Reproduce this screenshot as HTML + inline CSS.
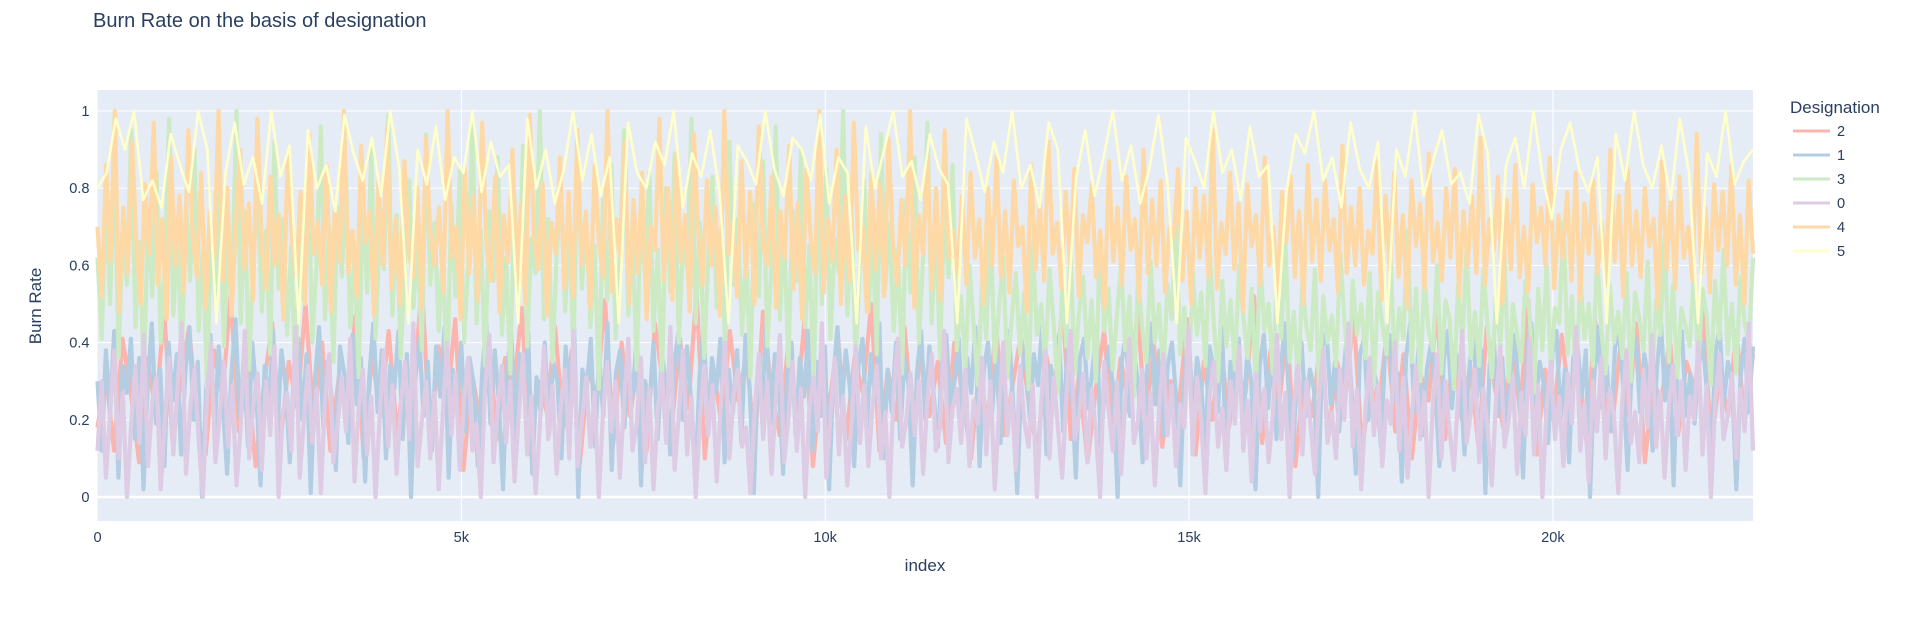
<!DOCTYPE html>
<html><head><meta charset="utf-8"><style>
body{margin:0;background:#fff;font-family:"Liberation Sans",sans-serif;}
svg text{font-family:"Liberation Sans",sans-serif;}
</style></head><body>
<svg id="chart" width="1911" height="617" xmlns="http://www.w3.org/2000/svg">
<text x="93" y="27" font-size="20" fill="#2a3f5f">Burn Rate on the basis of designation</text>
<rect x="97.5" y="90" width="1655.5" height="431" fill="#E5ECF6"/>
<g id="grid"></g>
<g id="series"></g>
<g id="axes"></g>
<text transform="translate(41,306) rotate(-90)" text-anchor="middle" font-size="17" fill="#2a3f5f">Burn Rate</text>
<text x="925" y="571" text-anchor="middle" font-size="17" fill="#2a3f5f">index</text>
<g id="legend">
<text x="1790" y="113" font-size="17" fill="#2a3f5f">Designation</text>
</g>
</svg>
<script>
const xTicks=[0,5000,10000,15000,20000];
const xTickLabels=["0","5k","10k","15k","20k"];
const yTicks=[0,0.2,0.4,0.6,0.8,1];
const yTickLabels=["0","0.2","0.4","0.6","0.8","1"];
const seriesNames=["2","1","3","0","4","5"];
const seriesColors=["#FBB4AE","#B3CDE3","#CCEBC5","#DECBE4","#FED9A6","#FFFFCC"];
const s2=[0.18,0.32,0.12,0.41,0.27,0.09,0.36,0.22,0.48,0.15,0.3,0.44,0.2,0.11,0.38,0.26,0.52,0.17,0.33,0.08,0.29,0.45,0.14,0.35,0.23,0.5,0.19,0.4,0.12,0.31,0.25,0.47,0.1,0.37,0.21,0.43,0.16,0.34,0.28,0.55,0.13,0.39,0.24,0.46,0.07,0.32,0.2,0.42,0.15,0.36,0.27,0.49,0.11,0.3,0.22,0.44,0.18,0.38,0.09,0.33,0.26,0.51,0.14,0.4,0.21,0.35,0.12,0.45,0.29,0.17,0.41,0.23,0.53,0.1,0.34,0.19,0.43,0.25,0.37,0.13,0.48,0.28,0.16,0.39,0.22,0.46,0.08,0.31,0.24,0.42,0.15,0.36,0.27,0.5,0.12,0.33,0.2,0.44,0.18,0.38,0.21,0.35,0.14,0.4,0.26,0.1,0.33,0.19,0.45,0.16,0.29,0.42,0.23,0.12,0.37,0.27,0.5,0.15,0.32,0.09,0.28,0.43,0.17,0.36,0.22,0.48,0.2,0.39,0.13,0.3,0.24,0.46,0.11,0.35,0.2,0.41,0.18,0.33,0.27,0.52,0.14,0.38,0.23,0.44,0.08,0.31,0.21,0.4,0.16,0.35,0.26,0.47,0.12,0.29,0.23,0.43,0.17,0.37,0.1,0.32,0.25,0.49,0.15,0.39,0.2,0.34,0.13,0.44,0.28,0.18,0.4,0.22,0.51,0.11,0.33,0.2,0.42,0.24,0.36,0.14,0.46,0.27,0.17,0.38,0.21,0.45,0.09,0.3,0.25,0.41,0.16,0.35,0.28,0.48,0.13,0.32,0.21,0.43,0.19,0.37];
const s1=[0.3,0.12,0.38,0.22,0.43,0.05,0.34,0.27,0.41,0.15,0.36,0.02,0.29,0.45,0.19,0.33,0.08,0.4,0.25,0.37,0.11,0.32,0.44,0.2,0.35,0.0,0.28,0.42,0.17,0.39,0.24,0.06,0.31,0.46,0.21,0.36,0.13,0.4,0.27,0.03,0.34,0.23,0.43,0.16,0.38,0.29,0.09,0.33,0.41,0.2,0.37,0.01,0.3,0.44,0.18,0.35,0.26,0.07,0.39,0.32,0.14,0.42,0.24,0.36,0.04,0.31,0.45,0.22,0.38,0.1,0.34,0.28,0.43,0.15,0.37,0.0,0.3,0.41,0.21,0.35,0.12,0.39,0.26,0.44,0.05,0.33,0.23,0.4,0.17,0.36,0.29,0.08,0.32,0.45,0.19,0.38,0.25,0.02,0.34,0.42,0.14,0.37,0.27,0.43,0.06,0.31,0.22,0.4,0.16,0.35,0.3,0.1,0.39,0.24,0.44,0.0,0.33,0.28,0.41,0.13,0.36,0.21,0.45,0.07,0.32,0.38,0.18,0.34,0.26,0.42,0.03,0.3,0.23,0.4,0.15,0.37,0.29,0.11,0.35,0.43,0.2,0.39,0.25,0.04,0.31,0.44,0.17,0.36,0.27,0.41,0.09,0.33,0.22,0.38,0.14,0.42,0.28,0.01,0.34,0.24,0.45,0.19,0.37,0.3,0.06,0.32,0.4,0.16,0.36,0.26,0.43,0.12,0.35,0.21,0.39,0.02,0.31,0.44,0.23,0.38,0.28,0.08,0.34,0.41,0.18,0.37,0.25,0.45,0.1,0.33,0.22,0.4,0.15,0.36,0.29,0.03,0.32,0.43,0.2,0.39,0.27,0.13,0.35,0.42,0.24,0.3,
0.41,0.19,0.36,0.27,0.44,0.08,0.33,0.4,0.22,0.38,0.14,0.35,0.43,0.25,0.01,0.31,0.39,0.2,0.37,0.29,0.45,0.11,0.34,0.26,0.42,0.17,0.38,0.3,0.05,0.36,0.41,0.23,0.33,0.44,0.13,0.3,0.39,0.27,0.0,0.35,0.42,0.21,0.37,0.28,0.09,0.32,0.45,0.24,0.38,0.16,0.34,0.4,0.26,0.03,0.31,0.43,0.2,0.36,0.29,0.12,0.39,0.33,0.22,0.44,0.07,0.35,0.27,0.41,0.18,0.37,0.3,0.02,0.34,0.42,0.23,0.38,0.15,0.32,0.45,0.26,0.1,0.36,0.4,0.21,0.33,0.28,0.0,0.39,0.43,0.24,0.35,0.17,0.31,0.44,0.27,0.06,0.37,0.41,0.2,0.34,0.29,0.13,0.38,0.42,0.25,0.32,0.04,0.36,0.45,0.22,0.39,0.16,0.33,0.4,0.28,0.08,0.35,0.43,0.23,0.37,0.3,0.11,0.31,0.44,0.26,0.38,0.01,0.34,0.41,0.21,0.36,0.18,0.32,0.42,0.27,0.05,0.39,0.45,0.24,0.35,0.29,0.14,0.37,0.43,0.2,0.33,0.09,0.36,0.4,0.26,0.38,0.0,0.31,0.44,0.23,0.34,0.17,0.39,0.42,0.28,0.07,0.35,0.41,0.22,0.37,0.3,0.12,0.33,0.45,0.25,0.36,0.03,0.38,0.43,0.21,0.32,0.19,0.34,0.4,0.27,0.1,0.37,0.44,0.24,0.35,0.29,0.02,0.31,0.41,0.22,0.39];
const s3=[0.62,0.41,0.78,0.5,0.88,0.36,0.7,0.55,0.95,0.44,0.66,0.3,0.73,0.52,0.84,0.4,0.6,0.98,0.47,0.69,0.34,0.76,0.56,0.9,0.43,0.64,0.28,0.71,0.5,0.86,0.39,0.67,0.58,1.0,0.45,0.74,0.33,0.62,0.8,0.48,0.69,0.37,0.92,0.54,0.72,0.42,0.65,0.27,0.77,0.51,0.87,0.4,0.6,0.96,0.46,0.7,0.35,0.75,0.57,0.83,0.44,0.63,0.31,0.79,0.53,0.9,0.41,0.68,0.59,0.99,0.47,0.73,0.36,0.61,0.82,0.49,0.66,0.38,0.94,0.55,0.71,0.43,0.64,0.29,0.76,0.52,0.85,0.4,0.6,0.97,0.45,0.69,0.34,0.74,0.56,0.88,0.42,0.62,0.32,0.78,0.5,0.91,0.39,0.67,0.58,1.0,0.46,0.72,0.35,0.63,0.81,0.48,0.7,0.37,0.93,0.54,0.73,0.44,0.65,0.28,0.77,0.51,0.86,0.41,0.61,0.95,0.47,0.68,0.33,0.75,0.57,0.84,0.43,0.64,0.3,0.8,0.53,0.89,0.4,0.66,0.59,0.98,0.45,0.71,0.36,0.62,0.83,0.49,0.69,0.38,0.92,0.55,0.72,0.42,0.63,0.31,0.76,0.52,0.87,0.39,0.6,0.96,0.46,0.7,0.34,0.74,0.56,0.9,0.44,0.65,0.29,0.79,0.5,0.85,0.41,0.67,0.58,1.0,0.47,0.73,0.35,0.61,0.82,0.48,0.68,0.37,0.94,0.54,0.71,0.43,0.64,0.32,0.77,0.53,0.88,0.4,0.62,0.97,0.45,0.7,0.36,0.75,0.57,0.86,
0.38,0.52,0.33,0.6,0.44,0.29,0.56,0.41,0.7,0.35,0.49,0.62,0.31,0.46,0.58,0.37,0.53,0.28,0.66,0.42,0.5,0.34,0.59,0.45,0.27,0.55,0.39,0.63,0.32,0.48,0.57,0.36,0.51,0.3,0.68,0.43,0.54,0.33,0.47,0.6,0.38,0.52,0.26,0.57,0.44,0.35,0.61,0.4,0.5,0.31,0.55,0.46,0.72,0.37,0.49,0.29,0.58,0.42,0.53,0.34,0.64,0.45,0.3,0.56,0.39,0.51,0.33,0.6,0.47,0.36,0.54,0.28,0.62,0.43,0.5,0.32,0.57,0.41,0.66,0.35,0.48,0.3,0.55,0.44,0.38,0.59,0.27,0.52,0.4,0.47,0.34,0.63,0.46,0.31,0.56,0.42,0.5,0.36,0.58,0.29,0.53,0.45,0.37,0.61,0.33,0.49,0.41,0.69,0.35,0.54,0.3,0.57,0.43,0.38,0.6,0.32,0.51,0.46,0.28,0.55,0.4,0.65,0.36,0.48,0.34,0.59,0.44,0.31,0.52,0.39,0.62,0.3,0.5,0.42,0.35,0.56,0.47,0.27,0.54,0.38,0.6,0.33,0.49,0.45,0.71,0.37,0.52,0.29,0.57,0.41,0.5,0.34,0.63,0.43,0.32,0.55,0.4,0.48,0.36,0.58,0.3,0.53,0.46,0.38,0.61,0.28,0.51,0.42,0.67,0.35,0.55,0.31,0.49,0.44,0.39,0.59,0.33,0.54,0.47,0.29,0.56,0.41,0.64,0.37,0.5,0.32,0.57,0.45,0.4,0.62];
const s0=[0.12,0.3,0.05,0.22,0.38,0.1,0.27,0.0,0.19,0.34,0.14,0.42,0.08,0.25,0.31,0.02,0.2,0.36,0.11,0.28,0.45,0.06,0.23,0.33,0.15,0.0,0.26,0.4,0.09,0.21,0.35,0.13,0.29,0.03,0.18,0.43,0.1,0.24,0.32,0.07,0.3,0.16,0.39,0.0,0.22,0.27,0.12,0.44,0.05,0.2,0.34,0.14,0.28,0.01,0.25,0.37,0.09,0.19,0.31,0.17,0.41,0.04,0.23,0.33,0.11,0.26,0.0,0.21,0.38,0.13,0.29,0.06,0.24,0.35,0.15,0.45,0.08,0.2,0.3,0.1,0.27,0.02,0.22,0.4,0.16,0.32,0.07,0.25,0.36,0.12,0.19,0.0,0.28,0.42,0.09,0.23,0.34,0.14,0.3,0.04,0.21,0.37,0.11,0.26,0.01,0.18,0.39,0.15,0.29,0.06,0.24,0.33,0.1,0.43,0.08,0.2,0.31,0.13,0.27,0.0,0.22,0.35,0.17,0.3,0.05,0.25,0.41,0.12,0.19,0.36,0.09,0.28,0.02,0.23,0.32,0.14,0.44,0.07,0.21,0.38,0.11,0.26,0.0,0.2,0.34,0.16,0.29,0.04,0.24,0.4,0.1,0.27,0.33,0.13,0.18,0.01,0.22,0.37,0.15,0.3,0.06,0.25,0.42,0.09,0.2,0.35,0.12,0.28,0.0,0.23,0.31,0.17,0.45,0.05,0.21,0.36,0.11,0.26,0.03,0.19,0.39,0.14,0.29,0.08,0.24,0.34,0.1,0.22,0.0,0.27,0.41,0.13,0.2,0.32,0.16,0.3,0.06,0.25,0.37,0.12,0.18,0.43,0.09,0.23,
0.28,0.14,0.33,0.08,0.25,0.19,0.36,0.11,0.3,0.02,0.22,0.4,0.16,0.27,0.07,0.34,0.2,0.13,0.29,0.0,0.24,0.38,0.1,0.31,0.18,0.05,0.26,0.43,0.15,0.21,0.32,0.09,0.28,0.17,0.0,0.35,0.23,0.12,0.3,0.06,0.25,0.41,0.14,0.2,0.33,0.1,0.27,0.03,0.22,0.37,0.16,0.29,0.08,0.24,0.18,0.44,0.11,0.31,0.2,0.01,0.26,0.35,0.13,0.23,0.07,0.3,0.19,0.39,0.12,0.25,0.04,0.32,0.17,0.28,0.09,0.21,0.42,0.15,0.27,0.0,0.24,0.34,0.11,0.3,0.18,0.06,0.26,0.38,0.14,0.22,0.1,0.33,0.2,0.45,0.13,0.28,0.02,0.23,0.36,0.16,0.29,0.08,0.25,0.19,0.4,0.12,0.31,0.05,0.21,0.34,0.15,0.27,0.0,0.24,0.37,0.1,0.3,0.17,0.07,0.26,0.43,0.14,0.22,0.33,0.09,0.28,0.18,0.03,0.25,0.39,0.13,0.2,0.31,0.06,0.27,0.16,0.41,0.11,0.29,0.0,0.23,0.35,0.15,0.26,0.08,0.32,0.19,0.44,0.12,0.24,0.04,0.3,0.17,0.36,0.1,0.28,0.21,0.01,0.25,0.38,0.14,0.22,0.09,0.33,0.18,0.42,0.13,0.27,0.05,0.23,0.34,0.16,0.3,0.07,0.26,0.2,0.4,0.11,0.29,0.0,0.24,0.37,0.15,0.21,0.32,0.1,0.28,0.17,0.45,0.12];
const s4=[0.7,0.52,0.86,0.61,1.0,0.48,0.75,0.58,0.92,0.66,0.5,0.81,0.63,0.97,0.55,0.72,0.46,0.88,0.6,0.78,0.53,0.95,0.68,0.57,0.84,0.49,0.74,0.62,1.0,0.56,0.8,0.47,0.7,0.9,0.59,0.76,0.51,0.98,0.65,0.54,0.83,0.6,0.73,0.46,0.89,0.67,0.57,0.79,0.5,0.94,0.63,0.71,0.55,0.86,0.48,0.77,0.61,1.0,0.58,0.69,0.52,0.91,0.66,0.74,0.47,0.82,0.6,0.96,0.54,0.72,0.5,0.87,0.64,0.57,0.8,0.49,0.93,0.68,0.6,0.75,0.53,1.0,0.62,0.7,0.46,0.85,0.58,0.78,0.51,0.97,0.65,0.56,0.83,0.48,0.73,0.61,0.9,0.55,0.76,0.5,0.99,0.67,0.59,0.81,0.47,0.71,0.63,0.88,0.54,0.79,0.52,0.95,0.6,0.74,0.49,0.86,0.66,0.57,1.0,0.53,0.72,0.62,0.92,0.5,0.77,0.58,0.84,0.46,0.7,0.64,0.98,0.56,0.8,0.51,0.89,0.61,0.73,0.48,0.94,0.68,0.55,0.82,0.6,0.75,0.47,1.0,0.63,0.71,0.52,0.87,0.57,0.79,0.5,0.96,0.65,0.6,0.83,0.49,0.74,0.62,0.91,0.54,0.76,0.46,0.85,0.67,0.58,1.0,0.53,0.72,0.61,0.9,0.5,0.78,0.56,0.97,0.64,0.7,0.48,0.84,0.59,0.81,0.52,0.93,0.66,0.55,0.77,0.6,1.0,0.49,0.73,0.63,0.88,0.54,0.8,0.51,0.95,0.62,0.69,
0.58,0.78,0.55,0.84,0.62,0.72,0.5,0.8,0.6,0.88,0.57,0.74,0.53,0.82,0.65,0.7,0.48,0.86,0.59,0.76,0.56,0.92,0.63,0.71,0.54,0.79,0.6,0.85,0.52,0.73,0.66,0.81,0.57,0.69,0.49,0.87,0.61,0.75,0.55,0.83,0.64,0.72,0.51,0.9,0.58,0.77,0.6,0.82,0.53,0.7,0.67,0.85,0.56,0.74,0.5,0.8,0.62,0.78,0.57,0.95,0.54,0.71,0.63,0.84,0.59,0.76,0.48,0.81,0.65,0.73,0.55,0.88,0.6,0.7,0.52,0.79,0.66,0.83,0.57,0.74,0.5,0.86,0.61,0.77,0.56,0.82,0.64,0.72,0.53,0.91,0.58,0.75,0.6,0.8,0.55,0.69,0.63,0.87,0.51,0.78,0.59,0.84,0.57,0.73,0.49,0.82,0.65,0.76,0.54,0.89,0.61,0.71,0.56,0.8,0.62,0.85,0.52,0.74,0.6,0.78,0.58,0.93,0.55,0.72,0.64,0.83,0.5,0.77,0.59,0.86,0.57,0.7,0.53,0.81,0.66,0.75,0.6,0.88,0.54,0.73,0.62,0.79,0.56,0.84,0.51,0.76,0.63,0.82,0.58,0.71,0.55,0.9,0.61,0.78,0.52,0.85,0.6,0.74,0.57,0.8,0.65,0.72,0.49,0.87,0.59,0.77,0.54,0.83,0.62,0.7,0.56,0.94,0.58,0.75,0.53,0.81,0.64,0.79,0.6,0.86,0.55,0.73,0.5,0.82,0.63];
const s5=[0.8,0.84,0.98,0.9,1.0,0.77,0.82,0.75,0.94,0.86,0.79,1.0,0.9,0.45,0.84,0.97,0.81,0.88,0.76,1.0,0.83,0.91,0.45,0.95,0.8,0.86,0.74,0.99,0.89,0.82,0.93,0.78,1.0,0.85,0.45,0.9,0.81,0.96,0.77,0.88,0.84,1.0,0.79,0.92,0.83,0.86,0.45,0.98,0.8,0.9,0.76,0.85,1.0,0.82,0.94,0.78,0.88,0.45,0.97,0.84,0.8,0.92,0.86,1.0,0.75,0.89,0.83,0.95,0.79,0.45,0.91,0.87,0.81,1.0,0.85,0.78,0.93,0.9,0.82,0.99,0.76,0.88,0.84,0.45,0.96,0.8,0.9,1.0,0.83,0.87,0.77,0.94,0.85,0.81,0.45,0.98,0.89,0.79,0.92,0.84,1.0,0.8,0.86,0.75,0.97,0.9,0.45,0.83,0.95,0.78,0.88,1.0,0.82,0.91,0.76,0.85,0.99,0.81,0.45,0.93,0.87,0.8,1.0,0.84,0.9,0.77,0.96,0.83,0.86,0.45,0.79,0.94,0.89,1.0,0.82,0.88,0.75,0.97,0.85,0.8,0.92,0.45,0.9,0.83,1.0,0.78,0.87,0.95,0.81,0.84,0.76,0.99,0.89,0.45,0.86,0.93,0.8,1.0,0.83,0.72,0.9,0.97,0.85,0.79,0.88,0.45,0.94,0.82,1.0,0.86,0.8,0.91,0.77,0.98,0.84,0.45,0.89,0.83,1.0,0.81,0.87,0.9];
const seriesValues=[s2,s1,s3,s0,s4,s5];
const xMax=22750;
const NS="http://www.w3.org/2000/svg";
const L=97.5,R=1753,T=90,B=521;
function xs(v){return L+(v/xMax)*(R-L);}
function ys(v){return 497-(v)*386;}
function mk(t,a,p){const e=document.createElementNS(NS,t);for(const k in a)e.setAttribute(k,a[k]);p.appendChild(e);return e;}
const grid=document.getElementById('grid'),axes=document.getElementById('axes'),ser=document.getElementById('series'),leg=document.getElementById('legend');
xTicks.forEach((t,i)=>{
  const g=mk('line',{x1:xs(t),x2:xs(t),y1:T,y2:B,stroke:'#fff','stroke-width':i==0?0:1},grid);
  
  
  const tx=mk('text',{x:xs(t),y:B+21,'text-anchor':'middle','font-size':'14.6',fill:'#2a3f5f'},axes);
  tx.textContent=xTickLabels[i];
  
  
});
yTicks.forEach((t,i)=>{
  const g=mk('line',{x1:L,x2:R,y1:ys(t),y2:ys(t),stroke:'#fff','stroke-width':t==0?2.5:1},grid);
  
  
  const tx=mk('text',{x:L-8,y:ys(t)+5,'text-anchor':'end','font-size':'14.6',fill:'#2a3f5f'},axes);
  tx.textContent=yTickLabels[i];
  
  
});
seriesValues.forEach((vals,si)=>{
  const n=vals.length;
  const pts=vals.map((v,i)=>xs(i*xMax/(n-1)).toFixed(1)+','+ys(v).toFixed(1)).join(' ');
  const pl=mk('polyline',{points:pts,fill:'none',stroke:seriesColors[si],'stroke-width':si==5?2.6:4.2,'stroke-linejoin':'round'},ser);
  
  
  const y=131+si*24;
  const ll=mk('line',{x1:1793,x2:1830,y1:y,y2:y,stroke:seriesColors[si],'stroke-width':3},leg);
  
  
  const lt=mk('text',{x:1837,y:y+5,'font-size':'14.6',fill:'#2a3f5f'},leg);
  lt.textContent=seriesNames[si];
  
  
});
</script>
</body></html>
